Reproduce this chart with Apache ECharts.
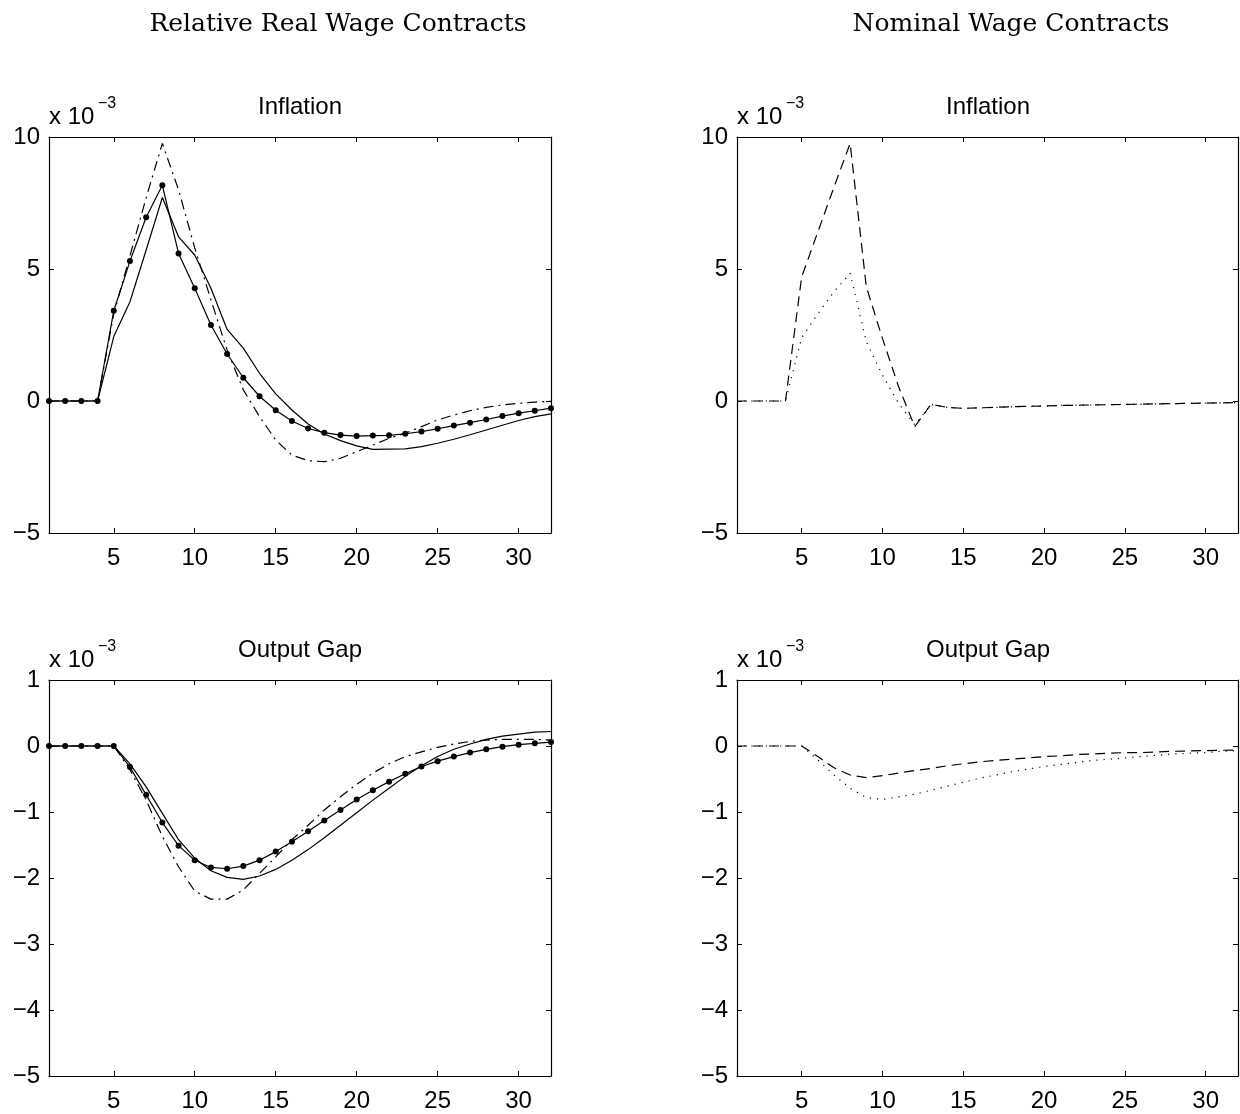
<!DOCTYPE html>
<html>
<head>
<meta charset="utf-8">
<script src="https://cdn.jsdelivr.net/npm/echarts@6/dist/echarts.min.js"></script>
<style>
  html, body { margin: 0; padding: 0; background: #fff; }
  #chart { width: 1240px; height: 1114px; }
</style>
</head>
<body>
<div id="chart"></div>
<script>
'use strict';

// periods (quarters after the shock)
var periods = [1, 2, 3, 4, 5, 6, 7, 8, 9, 10, 11, 12, 13, 14, 15, 16,
  17, 18, 19, 20, 21, 22, 23, 24, 25, 26, 27, 28, 29, 30, 31, 32];
var xTicks = [5, 10, 15, 20, 25, 30];

// values are in units of 1e-3
// relative real wage contracts - inflation
var infRelDots = [0, 0, 0, 0, 3.42, 5.30, 6.96, 8.17, 5.59, 4.27, 2.88, 1.78, 0.88, 0.18, -0.35, -0.76,
  -1.04, -1.20, -1.29, -1.33, -1.31, -1.30, -1.24, -1.16, -1.05, -0.93, -0.82, -0.70, -0.57, -0.46, -0.37, -0.27];
var infRelSolid = [0, 0, 0, 0, 2.44, 3.76, 5.72, 7.71, 6.22, 5.53, 4.27, 2.71, 2.0, 1.05, 0.27, -0.34,
  -0.87, -1.25, -1.50, -1.70, -1.83, -1.82, -1.81, -1.73, -1.60, -1.45, -1.28, -1.10, -0.92, -0.74, -0.59, -0.49];
var infRelDashDot = [0, 0, 0, 0, 3.3, 5.5, 7.7, 9.76, 8.0, 5.8, 3.83, 1.93, 0.42, -0.59, -1.48, -2.05,
  -2.26, -2.30, -2.17, -1.92, -1.67, -1.41, -1.22, -0.97, -0.72, -0.53, -0.37, -0.24, -0.15, -0.09, -0.04, -0.01];

// nominal wage contracts - inflation
var infNomDash = [0, 0, 0, 0, 4.7, 6.4, 8.1, 9.76, 4.33, 2.37, 0.54, -0.97, -0.13, -0.24, -0.28, -0.26,
  -0.24, -0.22, -0.20, -0.19, -0.17, -0.16, -0.15, -0.14, -0.13, -0.12, -0.11, -0.10, -0.09, -0.08, -0.07, -0.06];
var infNomDot = [0, 0, 0, 0, 2.4, 3.3, 4.14, 4.84, 2.25, 0.98, -0.09, -0.91, -0.13, -0.24, -0.28, -0.26,
  -0.24, -0.22, -0.20, -0.19, -0.17, -0.16, -0.15, -0.14, -0.13, -0.12, -0.11, -0.10, -0.09, -0.08, -0.07, -0.06];

// relative real wage contracts - output gap
var gapRelDots = [0, 0, 0, 0, 0, -0.32, -0.74, -1.16, -1.51, -1.73, -1.84, -1.86, -1.82, -1.73, -1.60, -1.45,
  -1.29, -1.13, -0.97, -0.81, -0.67, -0.54, -0.42, -0.31, -0.23, -0.16, -0.10, -0.05, -0.01, 0.02, 0.04, 0.06];
var gapRelSolid = [0, 0, 0, 0, 0, -0.27, -0.62, -1.02, -1.42, -1.70, -1.89, -1.99, -2.02, -1.97, -1.87, -1.73,
  -1.57, -1.39, -1.20, -1.01, -0.82, -0.64, -0.46, -0.30, -0.16, -0.05, 0.03, 0.10, 0.15, 0.18, 0.21, 0.22];
var gapRelDashDot = [0, 0, 0, 0, 0, -0.36, -0.82, -1.37, -1.83, -2.20, -2.32, -2.32, -2.18, -1.93, -1.68, -1.42,
  -1.20, -0.97, -0.77, -0.58, -0.41, -0.27, -0.16, -0.09, -0.02, 0.03, 0.07, 0.09, 0.10, 0.10, 0.10, 0.09];

// nominal wage contracts - output gap
var gapNomDash = [0, 0, 0, 0, 0, -0.16, -0.33, -0.44, -0.48, -0.45, -0.41, -0.37, -0.34, -0.30, -0.27, -0.24,
  -0.22, -0.20, -0.18, -0.16, -0.15, -0.13, -0.12, -0.11, -0.10, -0.10, -0.09, -0.08, -0.075, -0.07, -0.065, -0.06];
var gapNomDot = [0, 0, 0, 0, 0, -0.21, -0.44, -0.64, -0.78, -0.81, -0.77, -0.73, -0.67, -0.61, -0.55, -0.49,
  -0.44, -0.39, -0.35, -0.31, -0.28, -0.25, -0.22, -0.20, -0.18, -0.16, -0.14, -0.12, -0.11, -0.10, -0.08, -0.07];

var SANS = 'Liberation Sans, Arial, sans-serif';
var SERIF = 'DejaVu Serif, serif';

function pairs(vals) {
  return periods.map(function(p, i) { return [p, vals[i]]; });
}

function fmt(v) {
  return v < 0 ? '\u2212' + Math.abs(v) : String(v);
}

// one MATLAB style box: bottom + top x axis, left + right y axis
var grids = [
  { left: 49, top: 137, width: 502, height: 396, ymin: -5, ymax: 10, step: 5 },
  { left: 737, top: 137, width: 501, height: 396, ymin: -5, ymax: 10, step: 5 },
  { left: 49, top: 680, width: 502, height: 396, ymin: -5, ymax: 1, step: 1 },
  { left: 737, top: 680, width: 501, height: 396, ymin: -5, ymax: 1, step: 1 }
];

var gridOpt = [], xAxes = [], yAxes = [];
grids.forEach(function(g, i) {
  gridOpt.push({ left: g.left, top: g.top, width: g.width, height: g.height, containLabel: false });
  [false, true].forEach(function(isTop) {
    xAxes.push({
      type: 'value', gridIndex: i, min: 1, max: 32,
      position: isTop ? 'top' : 'bottom',
      splitLine: { show: false },
      axisLine: { show: true, onZero: false, lineStyle: { color: '#000', width: 1.2 } },
      axisTick: { show: true, inside: true, length: 5, customValues: xTicks, lineStyle: { color: '#000' } },
      axisLabel: { show: !isTop, customValues: xTicks, margin: 13, color: '#000', fontSize: 24, fontFamily: SANS }
    });
    yAxes.push({
      type: 'value', gridIndex: i, min: g.ymin, max: g.ymax, interval: g.step,
      position: isTop ? 'right' : 'left',
      splitLine: { show: false },
      axisLine: { show: true, onZero: false, lineStyle: { color: '#000', width: 1.2 } },
      axisTick: { show: true, inside: true, length: 5, lineStyle: { color: '#000' } },
      axisLabel: { show: !isTop, margin: 9, color: '#000', fontSize: 24, fontFamily: SANS, formatter: fmt }
    });
  });
});

var SOLID = 'solid';
var DASH = [10, 6];
var DASHDOT = [10, 5, 2, 5];
var DOT = [1.2, 6];

function line(gi, vals, type, dots) {
  return {
    type: 'line', xAxisIndex: gi * 2, yAxisIndex: gi * 2,
    data: pairs(vals),
    showSymbol: !!dots, symbol: 'circle', symbolSize: 6,
    itemStyle: { color: '#000' },
    lineStyle: { color: '#000', width: 1.2, type: type },
    silent: true
  };
}

var titleStyle = { color: '#000', fontSize: 24, fontWeight: 'normal', fontFamily: SANS };
var expStyle = { color: '#000', fontSize: 16, fontWeight: 'normal', fontFamily: SANS };

var titles = [
  { text: 'Relative Real Wage Contracts', left: 333, top: 7, textAlign: 'center',
    textStyle: { color: '#000', fontSize: 25, fontWeight: 'normal', fontFamily: SERIF } },
  { text: 'Nominal Wage Contracts', left: 1006, top: 7, textAlign: 'center',
    textStyle: { color: '#000', fontSize: 25, fontWeight: 'normal', fontFamily: SERIF } }
];
[['Inflation', 300, 95, 49], ['Inflation', 988, 95, 737], ['Output Gap', 300, 638, 49], ['Output Gap', 988, 638, 737]]
  .forEach(function(t) {
    titles.push({ text: t[0], left: t[1], top: t[2], textAlign: 'center', padding: 0, textStyle: titleStyle });
    titles.push({ text: 'x 10', left: t[3], top: t[2] + 10, padding: 0, textStyle: titleStyle });
    titles.push({ text: '\u22123', left: t[3] + 49, top: t[2] + 1, padding: 0, textStyle: expStyle });
  });

var option = {
  animation: false,
  backgroundColor: '#fff',
  title: titles,
  grid: gridOpt,
  xAxis: xAxes,
  yAxis: yAxes,
  series: [
    line(0, infRelSolid, SOLID),
    line(0, infRelDashDot, DASHDOT),
    line(0, infRelDots, SOLID, true),
    line(1, infNomDash, DASH),
    line(1, infNomDot, DOT),
    line(2, gapRelSolid, SOLID),
    line(2, gapRelDashDot, DASHDOT),
    line(2, gapRelDots, SOLID, true),
    line(3, gapNomDash, DASH),
    line(3, gapNomDot, DOT)
  ]
};

var myChart = echarts.init(document.getElementById('chart'));
myChart.setOption(option);
</script>
</body>
</html>
